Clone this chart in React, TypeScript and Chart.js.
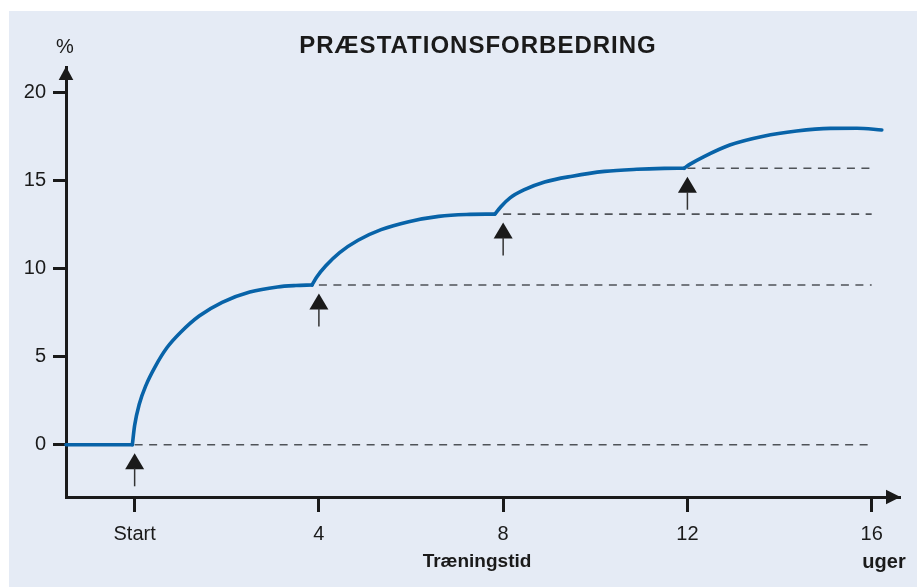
import React, { useEffect, useRef } from 'react';
import { Chart, registerables } from 'chart.js';

Chart.register(...registerables);

const TITLE = 'PRÆSTATIONSFORBEDRING';
const Y_UNIT = '%';
const X_TITLE = 'Træningstid';
const X_UNIT = 'uger';

const xTickValues = [0, 4, 8, 12, 16];
const xTickLabels = ['Start', '4', '8', '12', '16'];
const yTickValues = [0, 5, 10, 15, 20];

// curve (weeks, % improvement)
const baselineWeeks = [-1.49, -0.05];
const baselineValues = [0, 0];
const phase1Weeks = [-0.05, 0.0, 0.1, 0.25, 0.45, 0.7, 1.0, 1.4, 1.9, 2.5, 3.1, 3.5, 3.85];
const phase1Values = [0, 1.1, 2.3, 3.4, 4.45, 5.5, 6.38, 7.3, 8.08, 8.66, 8.95, 9.03, 9.06];
const phase2Weeks = [3.85, 3.95, 4.15, 4.45, 4.85, 5.35, 5.95, 6.6, 7.2, 7.82];
const phase2Values = [9.06, 9.5, 10.15, 10.9, 11.6, 12.2, 12.65, 12.95, 13.06, 13.08];
const phase3Weeks = [7.82, 7.95, 8.15, 8.45, 8.9, 9.5, 10.2, 10.9, 11.5, 11.93];
const phase3Values = [13.08, 13.5, 14.0, 14.45, 14.9, 15.23, 15.5, 15.62, 15.67, 15.68];
const phase4Weeks = [11.93, 12.05, 12.35, 12.92, 13.65, 14.37, 15.1, 15.68, 16.22];
const phase4Values = [15.68, 15.9, 16.33, 17.0, 17.5, 17.79, 17.94, 17.95, 17.85];

// dashed reference levels
const levelStarts = [0, 4, 8, 12];
const levelValues = [0, 9.06, 13.08, 15.68];
const levelEnd = 16;

// training-stimulus arrows
const arrowWeeks = [0, 4, 8, 12];
const arrowLevels = [0, 9.06, 13.08, 15.68];

const X_MIN = -1.49;
const X_MAX = 16.615;
const Y_MIN = -2.96;
const Y_MAX = 21.42;

const BG = '#e5ebf5';
const INK = '#1a1a1a';
const CURVE = '#0863a8';
const DASH = '#4f5358';
const FONT = "'Liberation Sans', Arial, Helvetica, sans-serif";

const zip = (xs: number[], ys: number[]) => xs.map((x, i) => ({ x, y: ys[i] }));

const decorPlugin = {
  id: 'decor',
  beforeDraw(chart: any) {
    const ctx = chart.ctx;
    ctx.save();
    ctx.fillStyle = '#ffffff';
    ctx.fillRect(0, 0, chart.width, chart.height);
    ctx.fillStyle = BG;
    ctx.fillRect(9, 11, chart.width - 9, chart.height - 11);
    ctx.restore();
  },
  afterDatasetsDraw(chart: any) {
    const ctx = chart.ctx;
    const xs = chart.scales.x;
    const ys = chart.scales.y;
    ctx.save();
    arrowWeeks.forEach((w, i) => {
      const px = xs.getPixelForValue(w);
      const tip = ys.getPixelForValue(arrowLevels[i]) + 8.5;
      ctx.fillStyle = INK;
      ctx.beginPath();
      ctx.moveTo(px, tip);
      ctx.lineTo(px + 9.5, tip + 16);
      ctx.lineTo(px - 9.5, tip + 16);
      ctx.closePath();
      ctx.fill();
      ctx.strokeStyle = '#333333';
      ctx.lineWidth = 1.5;
      ctx.beginPath();
      ctx.moveTo(px, tip + 15);
      ctx.lineTo(px, tip + 33);
      ctx.stroke();
    });
    ctx.restore();
  },
  afterDraw(chart: any) {
    const ctx = chart.ctx;
    const a = chart.chartArea;
    ctx.save();
    ctx.fillStyle = INK;
    // y axis arrowhead
    ctx.beginPath();
    ctx.moveTo(a.left, a.top - 0.5);
    ctx.lineTo(a.left + 7.3, a.top + 13);
    ctx.lineTo(a.left - 7.3, a.top + 13);
    ctx.closePath();
    ctx.fill();
    // x axis arrowhead
    ctx.beginPath();
    ctx.moveTo(a.right + 0.5, a.bottom);
    ctx.lineTo(a.right - 14, a.bottom - 7.2);
    ctx.lineTo(a.right - 14, a.bottom + 7.2);
    ctx.closePath();
    ctx.fill();

    ctx.textAlign = 'center';
    ctx.textBaseline = 'alphabetic';
    ctx.font = `bold 24px ${FONT}`;
    try { (ctx as any).letterSpacing = '1px'; } catch (e) {}
    ctx.fillText(TITLE, 478, 53);
    try { (ctx as any).letterSpacing = '0px'; } catch (e) {}

    ctx.font = `20px ${FONT}`;
    ctx.fillText(Y_UNIT, 65, 53);

    ctx.font = `bold 19px ${FONT}`;
    ctx.fillText(X_TITLE, 477, 567);
    ctx.font = `bold 20px ${FONT}`;
    ctx.fillText(X_UNIT, 884, 568);
    ctx.restore();
  },
};

export default function App() {
  const ref = useRef<HTMLCanvasElement | null>(null);

  useEffect(() => {
    if (!ref.current) return;
    const curveStyle = {
      borderColor: CURVE,
      borderWidth: 3.6,
      pointRadius: 0,
      fill: false,
      cubicInterpolationMode: 'monotone' as const,
      borderCapStyle: 'round' as const,
      borderJoinStyle: 'round' as const,
      order: 0,
      clip: false as any,
    };
    const curves = [
      { ...curveStyle, data: zip(baselineWeeks, baselineValues), tension: 0 },
      { ...curveStyle, data: zip(phase1Weeks, phase1Values) },
      { ...curveStyle, data: zip(phase2Weeks, phase2Values) },
      { ...curveStyle, data: zip(phase3Weeks, phase3Values) },
      { ...curveStyle, data: zip(phase4Weeks, phase4Values) },
    ];
    const dashed = levelStarts.map((s, i) => ({
      data: [
        { x: s, y: levelValues[i] },
        { x: levelEnd, y: levelValues[i] },
      ],
      borderColor: DASH,
      borderWidth: 1.6,
      borderDash: [8, 6.5],
      pointRadius: 0,
      fill: false,
      tension: 0,
      order: 1,
    }));

    const chart = new Chart(ref.current, {
      type: 'line',
      data: { datasets: [...curves, ...dashed] as any },
      options: {
        responsive: false,
        animation: false,
        events: [],
        layout: { padding: { top: 67, right: 17, left: 0, bottom: 0 } },
        plugins: {
          legend: { display: false },
          title: { display: false },
          tooltip: { enabled: false },
        },
        scales: {
          x: {
            type: 'linear',
            min: X_MIN,
            max: X_MAX,
            afterBuildTicks: (axis: any) => {
              axis.ticks = xTickValues.map((v) => ({ value: v }));
            },
            afterFit: (axis: any) => {
              axis.height = 90;
            },
            ticks: {
              autoSkip: false,
              maxRotation: 0,
              padding: 10,
              color: INK,
              font: { family: FONT, size: 20 },
              callback: (v: any) => {
                const i = xTickValues.indexOf(Number(v));
                return i >= 0 ? xTickLabels[i] : '';
              },
            },
            grid: {
              display: true,
              drawOnChartArea: false,
              drawTicks: true,
              tickLength: 15,
              tickColor: INK,
              tickWidth: 3,
              color: INK,
            },
            border: { display: true, color: INK, width: 3 },
          },
          y: {
            type: 'linear',
            min: Y_MIN,
            max: Y_MAX,
            afterBuildTicks: (axis: any) => {
              axis.ticks = yTickValues.map((v) => ({ value: v }));
            },
            afterFit: (axis: any) => {
              axis.width = 66;
            },
            ticks: {
              autoSkip: false,
              padding: 7,
              color: INK,
              font: { family: FONT, size: 20 },
              callback: (v: any) => String(v),
            },
            grid: {
              display: true,
              drawOnChartArea: false,
              drawTicks: true,
              tickLength: 13,
              tickColor: INK,
              tickWidth: 3,
              color: INK,
            },
            border: { display: true, color: INK, width: 3 },
          },
        },
      },
      plugins: [decorPlugin],
    });
    return () => chart.destroy();
  }, []);

  return (
    <div style={{ position: 'absolute', left: 0, top: 0, width: 917, height: 587 }}>
      <canvas ref={ref} width={917} height={587} style={{ display: 'block' }} />
    </div>
  );
}
